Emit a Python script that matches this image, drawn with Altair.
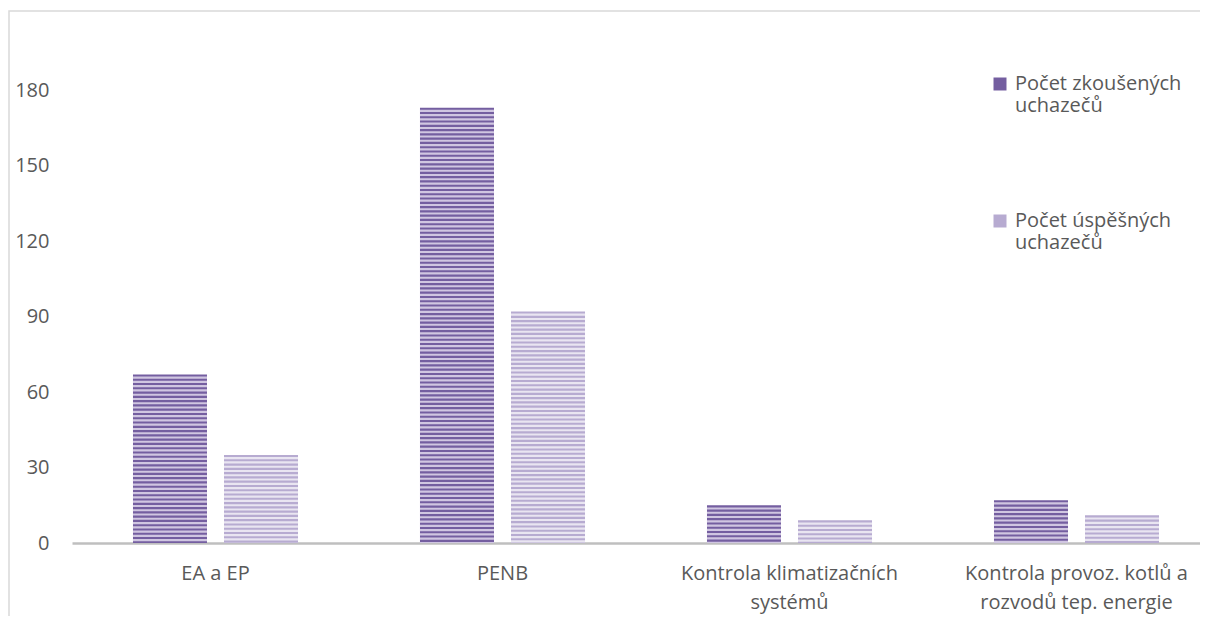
import altair as alt
import pandas as pd

categories = [
    "EA a EP",
    "PENB",
    "Kontrola klimatizačních\nsystémů",
    "Kontrola provoz. kotlů a\nrozvodů tep. energie",
]
series = ["Počet zkoušených\nuchazečů", "Počet úspěšných\nuchazečů"]
tested = [67, 173, 15, 17]
passed = [35, 92, 9, 11]
y_ticks = [0, 30, 60, 90, 120, 150, 180]

rows = []
for c, a, b in zip(categories, tested, passed):
    rows.append({"kat": c, "serie": series[0], "hodnota": a})
    rows.append({"kat": c, "serie": series[1], "hodnota": b})
df = pd.DataFrame(rows)

FONT = "Open Sans"
TXT = "#595959"
base_colors = ["#745ea0", "#b7abd1"]
stripe_colors = ["#d0c6e1", "#e9e5f1"]

y_scale = alt.Scale(domain=[-36.95, 211.4], nice=False, zero=False)
x_scale = alt.Scale(domain=categories, range=[63, 1211], paddingInner=0, paddingOuter=0)
xo_scale = alt.Scale(domain=series, paddingInner=0.187, paddingOuter=0.67)

x_axis = alt.Axis(
    title=None, orient="bottom", offset=-93, domainColor="#bfbfbf", domainWidth=2.5,
    ticks=False, grid=False, labelFont=FONT, labelFontSize=20, labelColor=TXT,
    labelPadding=20, labelAngle=0, labelLimit=400, labelLineHeight=29,
    labelExpr="split(datum.label, '\\n')",
)
y_axis = alt.Axis(
    title=None, orient="left", offset=-40, values=y_ticks, domain=False, ticks=False,
    grid=False, labelPadding=0, labelFont=FONT, labelFontSize=20, labelColor=TXT,
)

x_enc = alt.X("kat:N", scale=x_scale, axis=x_axis)
xo_enc = alt.XOffset("serie:N", scale=xo_scale)


def build(with_lh):
    legend_kw = dict(
        title=None, orient="none", legendX=981, legendY=63, symbolType="square",
        symbolSize=169, symbolStrokeWidth=0, labelFont=FONT, labelFontSize=20,
        labelColor=TXT, labelLimit=400, labelExpr="split(datum.label, '\\n')",
        rowPadding=95, labelOffset=5, padding=0,
    )
    if with_lh:
        legend_kw["labelLineHeight"] = 29
        legend_kw["rowPadding"] = 88
    bars = alt.Chart(df).mark_bar().encode(
        x=x_enc,
        xOffset=xo_enc,
        y=alt.Y("hodnota:Q", scale=y_scale, axis=y_axis),
        y2=alt.datum(0),
        color=alt.Color(
            "serie:N",
            scale=alt.Scale(domain=series, range=base_colors),
            legend=alt.Legend(**legend_kw),
        ),
    )

    stripes = (
        alt.Chart(df)
        .transform_calculate(s="sequence(0, datum.hodnota, 1.7)")
        .transform_flatten(["s"])
        .transform_calculate(
            top="datum.hodnota - datum.s - 0.85",
            bot="max(0, datum.hodnota - datum.s - 1.7)",
        )
        .transform_filter("datum.top > 0")
        .mark_bar()
        .encode(
            x=x_enc,
            xOffset=xo_enc,
            y=alt.Y("top:Q", scale=y_scale, title=None),
            y2="bot:Q",
            color=alt.condition(
                alt.datum.serie == series[0], alt.value(stripe_colors[0]), alt.value(stripe_colors[1])
            ),
        )
    )

    ch = (
        alt.layer(bars, stripes)
        .properties(
            width=1240,
            height=625,
            autosize=alt.AutoSizeParams(type="none"),
            padding={"left": 1, "top": 3, "right": -49, "bottom": -20},
            background="white",
        )
        .configure_view(stroke="#d9d9d9", strokeWidth=1.5)
    )
    ch.to_dict()
    return ch


try:
    chart = build(True)
except Exception:
    chart = build(False)

chart.save("out.html", embed_options={"renderer": "svg", "actions": False})
